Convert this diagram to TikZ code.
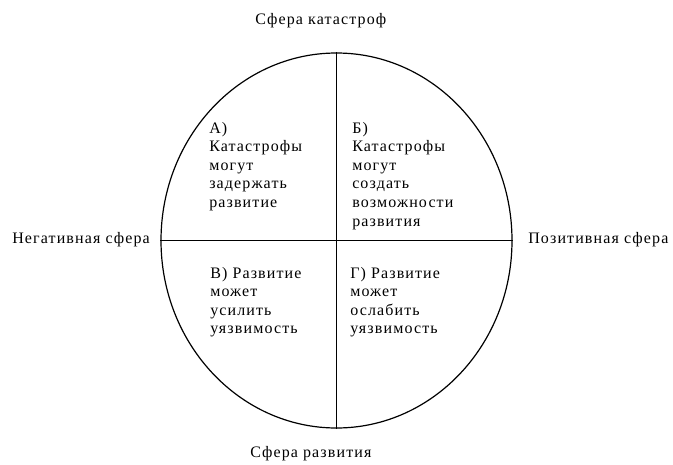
\documentclass[tikz,border=0pt]{standalone}
\usepackage{fontspec}
\setmainfont[LetterSpace=7]{Liberation Serif}
\usetikzlibrary{shapes.geometric}

\begin{document}
\begin{tikzpicture}[
  x=0.75pt, y=-0.75pt,
  sphere/.style={draw, ellipse, minimum width=263.25pt, minimum height=281.25pt, inner sep=0pt, line width=0.9pt},
  axis/.style={line width=0.9pt},
  sidetext/.style={anchor=base west, inner sep=0pt, font=\fontsize{12}{13.9}\selectfont},
  quadtext/.style={anchor=north west, inner sep=0pt, align=left, font=\fontsize{12}{13.9}\selectfont}
]
\useasboundingbox (0,0) rectangle (673,464);
\node[sphere] (circ) at (336.5,240.5) {};

\draw[axis] (circ.north) -- (circ.south);
\draw[axis] (circ.west) -- (circ.east);

\node[sidetext] (top) at (255,24) {Сфера катастроф};
\node[sidetext] (bottom) at (250,457) {Сфера развития};
\node[sidetext] (left) at (12,243) {Негативная сфера};
\node[sidetext] (right) at (528,243) {Позитивная сфера};

\node[quadtext] (qa) at (209,122) {А)\\Катастрофы\\могут\\задержать\\развитие};
\node[quadtext] (qb) at (352,122) {Б)\\Катастрофы\\могут\\создать\\возможности\\развития};
\node[quadtext] (qc) at (210,267) {В) Развитие\\может\\усилить\\уязвимость};
\node[quadtext] (qd) at (350,267) {Г) Развитие\\может\\ослабить\\уязвимость};
\end{tikzpicture}
\end{document}
